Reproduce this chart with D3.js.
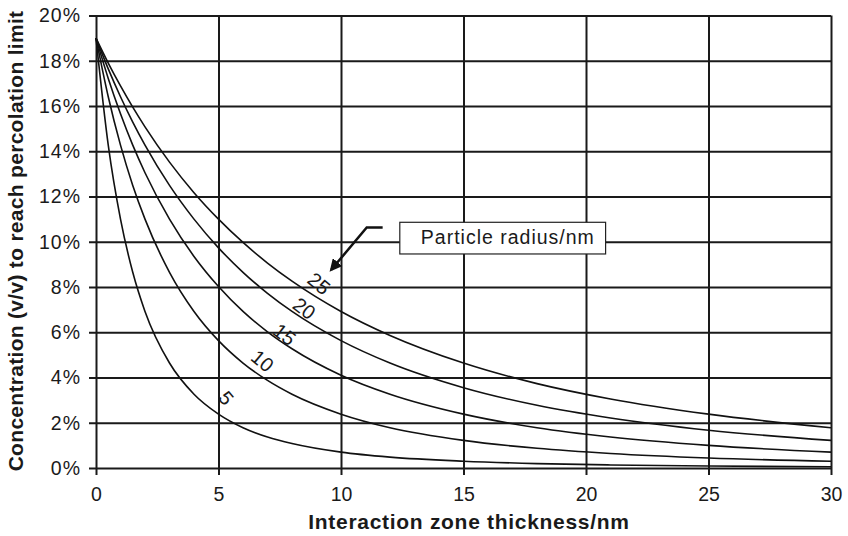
<!DOCTYPE html>
<html>
<head>
<meta charset="utf-8">
<title>Percolation limit vs interaction zone thickness</title>
<script src="https://d3js.org/d3.v7.min.js"></script>
<style>
  body { margin: 0; background: #fff; }
  text { font-family: "Liberation Sans", Arial, Helvetica, sans-serif; fill: #1a1a1a; }
</style>
</head>
<body>
<div id="chart"></div>
<script>
// thickness of interaction zone (nm)
var thickness = [0, 0.5, 1, 1.5, 2, 3, 4, 5, 6, 7, 8, 10, 12, 15, 18, 21, 25, 30];

// concentration (%) per particle radius
var radius5  = [19, 14.27, 11.0, 8.65, 6.92, 4.64, 3.26, 2.38, 1.78, 1.37, 1.08, 0.70, 0.48, 0.30, 0.195, 0.135, 0.088, 0.055];
var radius10 = [19, 16.41, 14.27, 12.49, 11.0, 8.65, 6.92, 5.63, 4.64, 3.87, 3.26, 2.38, 1.78, 1.22, 0.87, 0.64, 0.44, 0.30];
var radius15 = [19, 17.22, 15.66, 14.27, 13.05, 11.0, 9.35, 8.02, 6.92, 6.02, 5.27, 4.10, 3.26, 2.38, 1.78, 1.37, 1.00, 0.70];
var radius20 = [19, 17.64, 16.41, 15.29, 14.27, 12.49, 11.0, 9.73, 8.65, 7.72, 6.92, 5.63, 4.64, 3.55, 2.77, 2.21, 1.67, 1.22];
var radius25 = [19, 17.90, 16.89, 15.95, 15.08, 13.52, 12.17, 11.0, 9.97, 9.06, 8.26, 6.92, 5.86, 4.64, 3.73, 3.05, 2.38, 1.78];

var seriesNames = ["5", "10", "15", "20", "25"];
var seriesValues = [radius5, radius10, radius15, radius20, radius25];

// where the radius labels sit along each curve (x nm, y %)
var labelX = [5.31, 6.8, 7.7, 8.5, 9.1];
var labelY = [3.09, 4.73, 5.9, 7.05, 8.15];
var labelAngle = [50, 40, 38, 37, 40];

var xTicks = [0, 5, 10, 15, 20, 25, 30];
var yTicks = [0, 2, 4, 6, 8, 10, 12, 14, 16, 18, 20];

var width = 848, height = 536;
var margin = {top: 15.5, right: 17, bottom: 68, left: 96};

var svg = d3.select("#chart").append("svg")
    .attr("width", width)
    .attr("height", height);

var x = d3.scaleLinear().domain([0, 30]).range([margin.left, width - margin.right]);
var y = d3.scaleLinear().domain([0, 20]).range([height - margin.bottom, margin.top]);

// grid + axes
var yAxis = d3.axisLeft(y)
    .tickValues(yTicks)
    .tickSize(-(width - margin.left - margin.right))
    .tickPadding(16)
    .tickFormat(function(d) { return d + "%"; });

var gy = svg.append("g")
    .attr("transform", "translate(" + margin.left + ",0)")
    .call(yAxis);
gy.select(".domain").remove();
gy.selectAll("line")
    .attr("x1", -7)
    .attr("stroke", "#1a1a1a").attr("stroke-width", 2);
gy.selectAll("text")
    .attr("font-size", 19.5)
    .attr("letter-spacing", 1)
    .attr("x", -15);

var xAxis = d3.axisBottom(x)
    .tickValues(xTicks)
    .tickSize(7)
    .tickPadding(12);

var gx = svg.append("g")
    .attr("transform", "translate(0," + (height - margin.bottom) + ")")
    .call(xAxis);
gx.select(".domain").remove();
gx.selectAll("line")
    .attr("y1", -(height - margin.top - margin.bottom))
    .attr("y2", 7)
    .attr("stroke", "#1a1a1a").attr("stroke-width", 2);
gx.selectAll("text").attr("font-size", 19.5);

// curves
var line = d3.line()
    .x(function(d) { return x(d[0]); })
    .y(function(d) { return y(d[1]); })
    .curve(d3.curveMonotoneX);

seriesValues.forEach(function(vals) {
    svg.append("path")
        .datum(thickness.map(function(t, i) { return [t, vals[i]]; }))
        .attr("fill", "none")
        .attr("stroke", "#111")
        .attr("stroke-width", 1.6)
        .attr("d", line);
});

// radius labels on the curves
seriesNames.forEach(function(name, i) {
    svg.append("text")
        .attr("transform", "translate(" + x(labelX[i]) + "," + y(labelY[i]) + ") rotate(" + labelAngle[i] + ")")
        .attr("text-anchor", "middle")
        .attr("dy", "0.35em")
        .attr("font-size", 20)
        .text(name);
});

// callout arrow
var arrowPts = [[11.7, 10.63], [11.05, 10.63], [9.6, 8.76]];
svg.append("defs").append("marker")
    .attr("id", "head")
    .attr("viewBox", "0 0 10 10")
    .attr("refX", 8).attr("refY", 5)
    .attr("markerWidth", 5).attr("markerHeight", 5)
    .attr("orient", "auto")
    .append("path")
    .attr("d", "M0,0L10,5L0,10z")
    .attr("fill", "#111");

svg.append("path")
    .attr("d", d3.line().x(function(d) { return x(d[0]); }).y(function(d) { return y(d[1]); })(arrowPts))
    .attr("fill", "none")
    .attr("stroke", "#111")
    .attr("stroke-width", 2.5)
    .attr("marker-end", "url(#head)");

// callout box
var boxX0 = 12.4, boxX1 = 20.8, boxY0 = 10.86, boxY1 = 9.46;
svg.append("rect")
    .attr("x", x(boxX0)).attr("y", y(boxY0))
    .attr("width", x(boxX1) - x(boxX0))
    .attr("height", y(boxY1) - y(boxY0))
    .attr("fill", "#fff")
    .attr("stroke", "#222")
    .attr("stroke-width", 1.2);
svg.append("text")
    .attr("x", x(boxX0) + 21)
    .attr("y", y(boxY0) + 22)
    .attr("font-size", 19.5)
    .attr("letter-spacing", 1)
    .text("Particle radius/nm");

// axis titles
svg.append("text")
    .attr("x", 469)
    .attr("y", 529)
    .attr("text-anchor", "middle")
    .attr("font-size", 21)
    .attr("font-weight", "bold")
    .attr("letter-spacing", 0.7)
    .text("Interaction zone thickness/nm");

svg.append("text")
    .attr("transform", "translate(23,241) rotate(-90)")
    .attr("text-anchor", "middle")
    .attr("font-size", 21)
    .attr("font-weight", "bold")
    .attr("letter-spacing", 0.3)
    .text("Concentration (v/v) to reach percolation limit");
</script>
</body>
</html>
